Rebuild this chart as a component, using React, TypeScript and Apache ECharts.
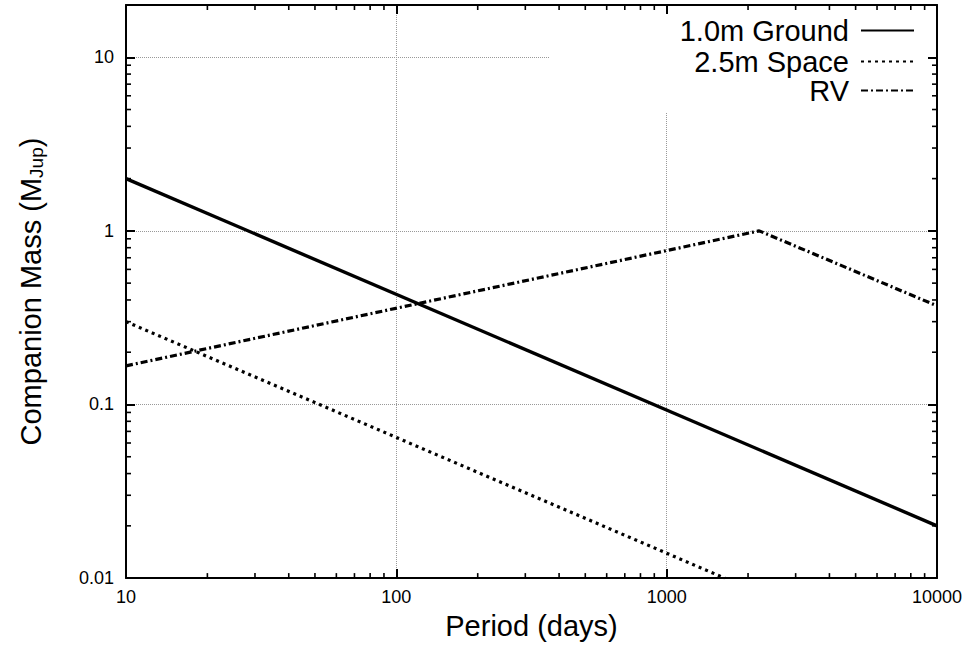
import React, { useEffect, useRef } from "react";
import * as echarts from "echarts";

const FONT = "'Liberation Sans', Arial, Helvetica, sans-serif";

// Series values: [period (days), companion mass (M_Jup)]
const groundData: [number, number][] = [
  [10, 2.0],
  [10000, 0.02],
];
const spaceData: [number, number][] = [
  [10, 0.3],
  [1640, 0.01],
];
const rvData: [number, number][] = [
  [10, 0.167],
  [2200, 1.0],
  [10000, 0.37],
];

const seriesNames = ["1.0m Ground", "2.5m Space", "RV"];

// Tick labels
const xTickLabels: Record<number, string> = { 1: "10", 2: "100", 3: "1000", 4: "10000" };
const yTickLabels: Record<number, string> = { [-2]: "0.01", [-1]: "0.1", 0: "1", 1: "10" };

// Minor tick positions (log axes)
const minorX = [
  20, 30, 40, 50, 60, 70, 80, 90,
  200, 300, 400, 500, 600, 700, 800, 900,
  2000, 3000, 4000, 5000, 6000, 7000, 8000, 9000,
];
const minorY = [
  0.02, 0.03, 0.04, 0.05, 0.06, 0.07, 0.08, 0.09,
  0.2, 0.3, 0.4, 0.5, 0.6, 0.7, 0.8, 0.9,
  2, 3, 4, 5, 6, 7, 8, 9,
];

const X_MIN = 10;
const X_MAX = 10000;
const Y_MIN = 0.01;
const Y_MAX = 20;

function logLabel(map: Record<number, string>) {
  return (v: number) => {
    const l = Math.log10(v);
    const e = Math.round(l);
    if (Math.abs(l - e) > 1e-6) return "";
    return map[e] ?? "";
  };
}

export default function App() {
  const ref = useRef<HTMLDivElement>(null);

  useEffect(() => {
    if (!ref.current) return;
    const chart = echarts.init(ref.current, undefined, { renderer: "svg" });

    const baseXAxis = {
      type: "log" as const,
      logBase: 10,
      min: X_MIN,
      max: X_MAX,
      interval: 1,
      axisLine: { show: true, onZero: false, lineStyle: { color: "#000", width: 2 } },
      axisTick: { show: true, inside: true, length: 9, lineStyle: { color: "#000", width: 2 } },
    };
    const baseYAxis = {
      type: "log" as const,
      logBase: 10,
      min: Y_MIN,
      max: Y_MAX,
      interval: 1,
      axisLine: { show: true, onZero: false, lineStyle: { color: "#000", width: 2 } },
      axisTick: { show: true, inside: true, length: 9, lineStyle: { color: "#000", width: 2 } },
    };

    const legendCommon = {
      orient: "vertical" as const,
      align: "right" as const,
      itemWidth: 53,
      itemHeight: 14,
      padding: 0,
      selectedMode: false,
      itemStyle: { opacity: 0 },
      textStyle: { fontSize: 29, fontFamily: FONT, color: "#000", padding: [0, 7, 0, 0], lineHeight: 28 },
    };

    const tickStyle = { stroke: "#000", lineWidth: 1.6 };

    chart.setOption({
      animation: false,
      backgroundColor: "#fff",
      grid: { left: 115, right: 31, top: 5, bottom: 64, containLabel: false },
      xAxis: [
        {
          ...baseXAxis,
          position: "bottom",
          z: 0,
          axisLabel: {
            show: true,
            margin: 10,
            fontSize: 18,
            fontFamily: FONT,
            color: "#000",
            formatter: logLabel(xTickLabels),
          },
          splitLine: { show: true, lineStyle: { color: "#999", type: "dotted", width: 1 } },
          name: "Period (days)",
          nameLocation: "middle",
          nameGap: 31,
          nameTextStyle: { fontSize: 29, fontFamily: FONT, color: "#000" },
        },
        {
          ...baseXAxis,
          position: "top",
          z: 3,
          axisLabel: { show: false },
          splitLine: { show: false },
        },
      ],
      yAxis: [
        {
          ...baseYAxis,
          position: "left",
          z: 0,
          axisLabel: {
            show: true,
            margin: 12,
            fontSize: 18,
            fontFamily: FONT,
            color: "#000",
            formatter: logLabel(yTickLabels),
          },
          splitLine: { show: true, lineStyle: { color: "#999", type: "dotted", width: 1 } },
          name: "{a|Companion Mass (M}{s|Jup}{a|)}",
          nameLocation: "middle",
          nameRotate: 90,
          nameGap: 80,
          nameTextStyle: {
            fontFamily: FONT,
            color: "#000",
            rich: {
              a: { fontSize: 29, fontFamily: FONT, color: "#000", lineHeight: 30, verticalAlign: "top" },
              s: {
                fontSize: 19,
                fontFamily: FONT,
                color: "#000",
                lineHeight: 19,
                padding: [19, 0, 0, 0],
                verticalAlign: "bottom",
              },
            },
          },
        },
        {
          ...baseYAxis,
          position: "right",
          z: 3,
          axisLabel: { show: false },
          splitLine: { show: false },
        },
      ],
      legend: [
        { ...legendCommon, data: [seriesNames[0]], right: 53, top: 16 },
        { ...legendCommon, data: [seriesNames[1]], right: 53, top: 47 },
        { ...legendCommon, data: [seriesNames[2]], right: 53, top: 76 },
      ],
      graphic: [
        {
          type: "rect",
          z: 1,
          silent: true,
          shape: { x: 549, y: 7, width: 387, height: 105 },
          style: { fill: "#fff" },
        },
      ],
      series: [
        {
          name: seriesNames[0],
          type: "line",
          data: groundData,
          symbol: "none",
          z: 4,
          lineStyle: { color: "#000", width: 3.4, type: "solid" },
          itemStyle: { color: "#000" },
        },
        {
          name: seriesNames[1],
          type: "line",
          data: spaceData,
          symbol: "none",
          z: 4,
          lineStyle: { color: "#000", width: 3.2, type: [3, 4] },
          itemStyle: { color: "#000" },
        },
        {
          name: seriesNames[2],
          type: "line",
          data: rvData,
          symbol: "none",
          z: 4,
          lineStyle: { color: "#000", width: 3.2, type: [7, 3, 2, 3] },
          itemStyle: { color: "#000" },
        },
        {
          name: "minorX",
          type: "custom",
          clip: false,
          z: 5,
          silent: true,
          data: minorX.map((v) => [v, 1]),
          renderItem: (params: any, api: any) => {
            const cs = params.coordSys;
            const p = api.coord([api.value(0), 1]);
            const bottom = cs.y + cs.height;
            return {
              type: "group",
              children: [
                { type: "line", shape: { x1: p[0], y1: bottom, x2: p[0], y2: bottom - 5 }, style: tickStyle },
                { type: "line", shape: { x1: p[0], y1: cs.y, x2: p[0], y2: cs.y + 5 }, style: tickStyle },
              ],
            };
          },
        },
        {
          name: "minorY",
          type: "custom",
          clip: false,
          z: 5,
          silent: true,
          data: minorY.map((v) => [100, v]),
          renderItem: (params: any, api: any) => {
            const cs = params.coordSys;
            const p = api.coord([100, api.value(1)]);
            const right = cs.x + cs.width;
            return {
              type: "group",
              children: [
                { type: "line", shape: { x1: cs.x, y1: p[1], x2: cs.x + 5, y2: p[1] }, style: tickStyle },
                { type: "line", shape: { x1: right, y1: p[1], x2: right - 5, y2: p[1] }, style: tickStyle },
              ],
            };
          },
        },
      ],
    });

    return () => chart.dispose();
  }, []);

  return <div ref={ref} style={{ width: 968, height: 645, position: "absolute", left: 0, top: 0 }} />;
}
